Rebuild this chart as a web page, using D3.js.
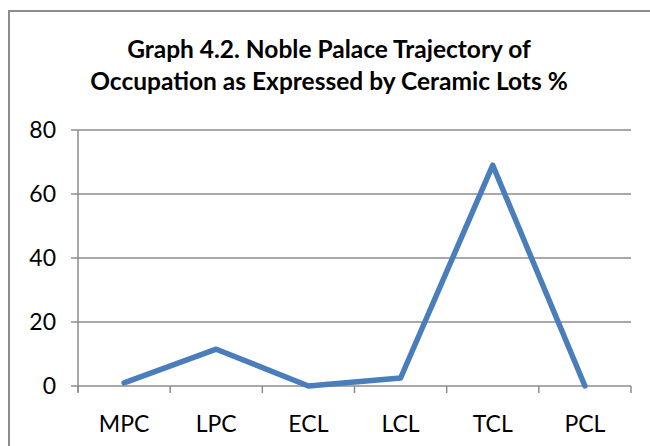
<!DOCTYPE html>
<html><head><meta charset="utf-8">
<script src="https://cdn.jsdelivr.net/npm/d3@7"></script>
<style>body{margin:0;background:#fff}svg{display:block}</style>
</head><body>
<svg id="c" width="650" height="446"></svg>
<script>
const categories = ["MPC","LPC","ECL","LCL","TCL","PCL"];
const values = [1, 11.5, 0, 2.5, 69, 0];
const yTicks = [0, 20, 40, 60, 80];
const titleLines = ["Graph 4.2. Noble Palace Trajectory of", "Occupation as Expressed by Ceramic Lots %"];

(function(){
const svg = d3.select("#c");
const font = "Lato, 'Open Sans', sans-serif";
// outer border
svg.append("rect").attr("x",9).attr("y",11).attr("width",660).attr("height",460)
  .attr("fill","none").attr("stroke","#8c8c8c").attr("stroke-width",2);

const pl = 78, pr = 631, pt = 130, pb = 386;
const x = d3.scaleBand().domain(categories).range([pl,pr]);
const y = d3.scaleLinear().domain([0,80]).range([pb,pt]);

// gridlines
svg.append("g").selectAll("line").data(yTicks).join("line")
  .attr("x1",pl-7).attr("x2",pr).attr("y1",d=>y(d)).attr("y2",d=>y(d))
  .attr("stroke","#8c8c8c").attr("stroke-width",1.5);
// y axis line
svg.append("line").attr("x1",pl).attr("x2",pl).attr("y1",pt).attr("y2",pb+6)
  .attr("stroke","#8c8c8c").attr("stroke-width",1.5);
// x ticks
const xt = [pl, ...categories.map(c=>x(c)+x.bandwidth())];
svg.append("g").selectAll("line").data(xt).join("line")
  .attr("x1",d=>d).attr("x2",d=>d).attr("y1",pb).attr("y2",pb+7)
  .attr("stroke","#8c8c8c").attr("stroke-width",1.5);

// y labels
svg.append("g").selectAll("text").data(yTicks).join("text")
  .attr("x",56).attr("y",d=>y(d)+8).attr("text-anchor","end")
  .attr("font-family",font).attr("font-size",23).attr("fill","#000").text(d=>d);
// x labels
svg.append("g").selectAll("text").data(categories).join("text")
  .attr("x",d=>x(d)+x.bandwidth()/2).attr("y",432).attr("text-anchor","middle")
  .attr("font-family",font).attr("font-size",23).attr("fill","#000").text(d=>d);

// line
const line = d3.line().x((d,i)=>x(categories[i])+x.bandwidth()/2).y(d=>y(d));
svg.append("path").datum(values).attr("d",line).attr("fill","none")
  .attr("stroke","#4a7ebb").attr("stroke-width",5.5).attr("stroke-linejoin","round").attr("stroke-linecap","round");

// title
svg.append("g").selectAll("text").data(titleLines).join("text")
  .attr("x",329).attr("y",(d,i)=>58+i*32).attr("text-anchor","middle")
  .attr("font-family",font).attr("font-weight","bold").attr("font-size",24.5).attr("fill","#000").text(d=>d);
})();
</script>
</body></html>
